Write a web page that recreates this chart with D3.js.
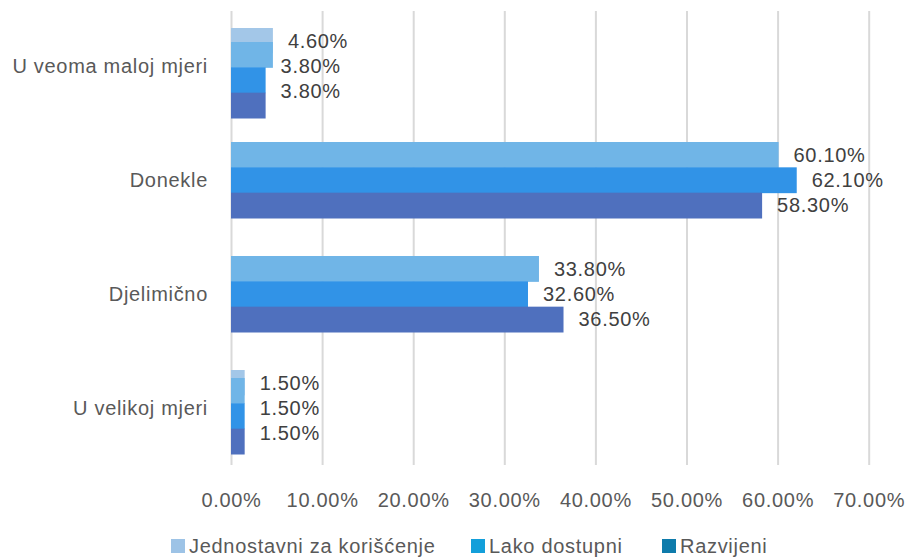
<!DOCTYPE html>
<html>
<head>
<meta charset="utf-8">
<script src="https://cdn.jsdelivr.net/npm/d3@7"></script>
<style>
  html, body { margin: 0; padding: 0; background: #fff; }
  text { font-family: "Liberation Sans", Arial, sans-serif; letter-spacing: 0.7px; }
</style>
</head>
<body>
<div id="chart"></div>
<script>
// podaci (odozgo prema dolje)
const categories = ['U veoma maloj mjeri', 'Donekle', 'Djelimično', 'U velikoj mjeri'];
const seriesNames = ['Jednostavni za korišćenje', 'Lako dostupni', 'Razvijeni'];
const jednostavni = [4.6, 60.1, 33.8, 1.5];
const lakoDostupni = [3.8, 62.1, 32.6, 1.5];
const razvijeni = [3.8, 58.3, 36.5, 1.5];
const xTicks = [0, 10, 20, 30, 40, 50, 60, 70];

const W = 907, H = 558;
const barColors = ['#70b5e7', '#3193e7', '#4f70be'];
const legendColors = ['#9dc3e6', '#139fda', '#0e7bab'];
// na slici su prva i zadnja grupa pomjerene nadolje, a ispod viri svijetla traka
const groupShift = [14, 0, 0, 8];

const svg = d3.select('#chart').append('svg')
  .attr('width', W).attr('height', H);

const x = d3.scaleLinear().domain([0, 70]).range([231, 868.7]);
const y = d3.scaleBand().domain(categories).range([9, 465])
  .paddingInner(1 / 3).paddingOuter(1 / 6);
const ySub = d3.scaleBand().domain(seriesNames).range([0, y.bandwidth()]);

// mreža
svg.append('g')
  .attr('transform', 'translate(0,465)')
  .call(d3.axisBottom(x).tickValues(xTicks).tickSize(-454).tickFormat(d => d.toFixed(2) + '%'))
  .call(g => g.select('.domain').remove())
  .call(g => g.selectAll('.tick line').attr('stroke', '#d9d9d9').attr('stroke-width', 2))
  .call(g => g.selectAll('.tick text')
    .attr('y', 28).attr('fill', '#595959')
    .style('font-size', '20px'));

// kategorije
svg.append('g')
  .selectAll('text')
  .data(categories)
  .join('text')
  .attr('x', 208)
  .attr('y', d => y(d) + y.bandwidth() / 2)
  .attr('dy', '0.35em')
  .attr('text-anchor', 'end')
  .attr('fill', '#595959')
  .style('font-size', '20px')
  .text(d => d);

const rows = categories.map((c, i) => ({
  cat: c, idx: i,
  vals: [jednostavni[i], lakoDostupni[i], razvijeni[i]]
}));

// svijetla traka ispod (prva serija na svom mjestu)
svg.append('g')
  .selectAll('rect')
  .data(rows)
  .join('rect')
  .attr('x', x(0))
  .attr('y', d => y(d.cat))
  .attr('width', d => x(d.vals[0]) - x(0))
  .attr('height', ySub.bandwidth())
  .attr('fill', '#a3c7e8');

const groups = svg.append('g')
  .selectAll('g')
  .data(rows)
  .join('g')
  .attr('transform', d => `translate(0,${y(d.cat)})`);

groups.selectAll('rect')
  .data(d => d.vals.map((v, k) => ({ v, k, shift: groupShift[d.idx] })))
  .join('rect')
  .attr('x', x(0))
  .attr('y', d => ySub(seriesNames[d.k]) + d.shift)
  .attr('width', d => x(d.v) - x(0))
  .attr('height', ySub.bandwidth() + 0.5)
  .attr('fill', d => barColors[d.k]);

groups.selectAll('text')
  .data(d => d.vals.map((v, k) => ({ v, k })))
  .join('text')
  .attr('x', d => x(d.v) + 15)
  .attr('y', d => ySub(seriesNames[d.k]) + ySub.bandwidth() / 2)
  .attr('dy', '0.35em')
  .attr('fill', '#404040')
  .style('font-size', '20px')
  .text(d => d.v.toFixed(2) + '%');

// legenda
const legendX = [171, 471, 662];
const legend = svg.append('g')
  .selectAll('g')
  .data(seriesNames)
  .join('g')
  .attr('transform', (d, i) => `translate(${legendX[i]},546)`);

legend.append('rect')
  .attr('x', 0).attr('y', -7)
  .attr('width', 14).attr('height', 14)
  .attr('fill', (d, i) => legendColors[i]);

legend.append('text')
  .attr('x', 18).attr('y', 0)
  .attr('dy', '0.35em')
  .attr('fill', '#595959')
  .style('font-size', '20px')
  .text(d => d);
</script>
</body>
</html>
